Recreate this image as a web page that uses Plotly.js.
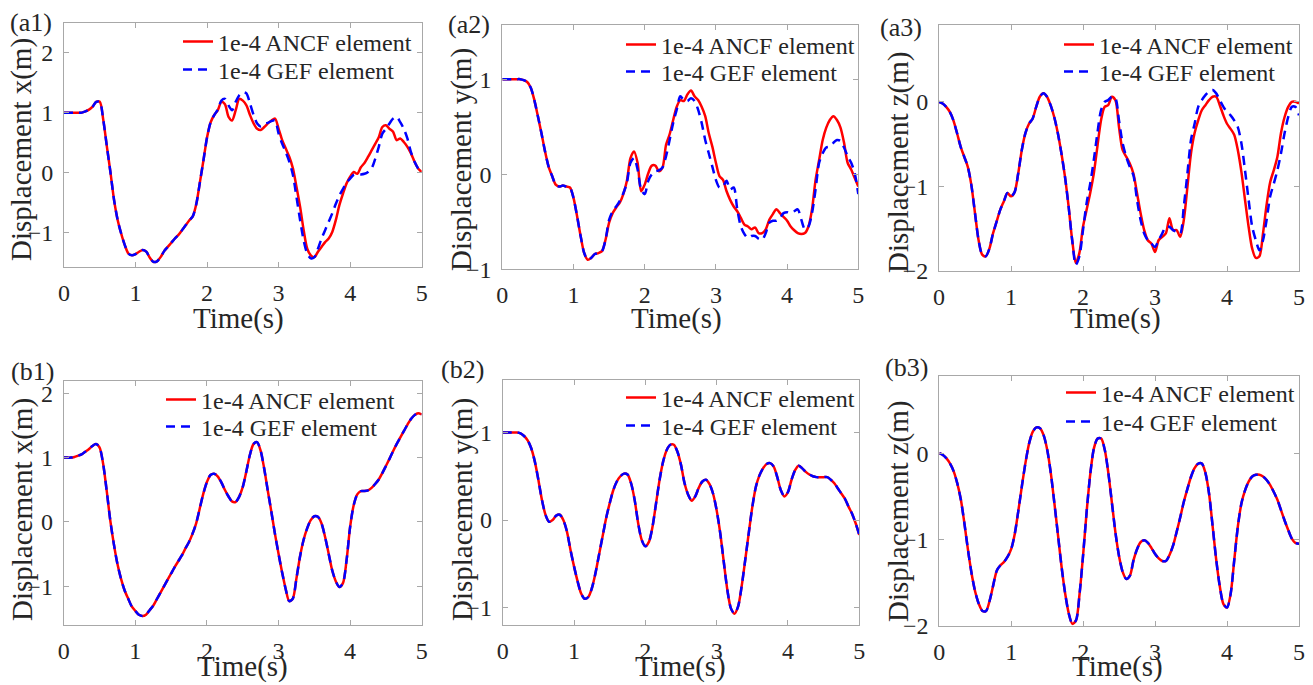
<!DOCTYPE html>
<html>
<head>
<meta charset="utf-8">
<script src="https://cdn.plot.ly/plotly-3.0.1.min.js"></script>
<style>
html,body{margin:0;padding:0;background:#fff;}
#chart{width:1313px;height:685px;}
</style>
</head>
<body>
<div id="chart"></div>
<script>
// time grid (s), sampled every 0.05 s
const time = Array.from({length: 101}, (_, i) => Math.round(i * 5) / 100);

// (a1) displacement x
const a1_ancf = [1.0,1.0,1.0,1.0,1.0,1.0,1.02,1.05,1.1,1.18,
  1.18,0.87,0.43,0.0,-0.46,-0.79,-1.02,-1.21,-1.35,-1.38,
  -1.36,-1.32,-1.29,-1.32,-1.42,-1.49,-1.48,-1.41,-1.31,-1.24,
  -1.17,-1.1,-1.04,-0.96,-0.88,-0.8,-0.73,-0.52,-0.16,0.21,
  0.59,0.84,0.96,1.04,1.18,1.14,0.93,0.87,1.04,1.23,
  1.2,1.12,0.96,0.82,0.73,0.71,0.76,0.82,0.87,0.9,
  0.73,0.54,0.4,0.26,0.07,-0.24,-0.57,-0.96,-1.27,-1.38,
  -1.41,-1.32,-1.24,-1.16,-1.1,-0.99,-0.79,-0.54,-0.35,-0.18,
  -0.07,0.01,-0.02,0.09,0.16,0.26,0.37,0.48,0.59,0.76,
  0.79,0.73,0.68,0.54,0.57,0.51,0.43,0.32,0.18,0.07,
  0.01];
const a1_gef = [1.0,1.0,1.0,1.0,1.0,1.0,1.02,1.05,1.1,1.18,
  1.18,0.87,0.43,0.0,-0.46,-0.79,-1.02,-1.21,-1.35,-1.38,
  -1.36,-1.32,-1.29,-1.32,-1.42,-1.49,-1.48,-1.41,-1.31,-1.24,
  -1.17,-1.1,-1.04,-0.96,-0.88,-0.8,-0.73,-0.52,-0.16,0.21,
  0.59,0.84,0.96,1.05,1.2,1.23,1.12,1.04,1.18,1.29,
  1.34,1.32,1.15,0.96,0.82,0.77,0.81,0.83,0.86,0.87,
  0.65,0.48,0.34,0.18,-0.04,-0.41,-0.79,-1.13,-1.35,-1.43,
  -1.41,-1.27,-1.1,-0.96,-0.82,-0.68,-0.52,-0.38,-0.27,-0.17,
  -0.1,-0.04,-0.03,-0.03,-0.02,0.01,0.07,0.23,0.43,0.65,
  0.73,0.82,0.9,0.93,0.84,0.73,0.57,0.34,0.18,0.07,
  0.01];

// (a2) displacement y
const a2_ancf = [1.0,1.0,1.0,1.0,1.0,1.0,0.99,0.97,0.91,0.78,
  0.61,0.43,0.24,0.08,-0.02,-0.11,-0.13,-0.12,-0.13,-0.14,
  -0.25,-0.44,-0.65,-0.83,-0.9,-0.88,-0.84,-0.83,-0.81,-0.69,
  -0.51,-0.41,-0.35,-0.3,-0.21,-0.07,0.17,0.24,0.12,-0.18,
  -0.11,0.01,0.09,0.09,0.03,0.07,0.31,0.42,0.57,0.71,
  0.78,0.77,0.84,0.88,0.82,0.78,0.71,0.61,0.43,0.29,
  0.12,-0.02,-0.06,-0.18,-0.27,-0.34,-0.39,-0.46,-0.53,-0.55,
  -0.58,-0.56,-0.62,-0.62,-0.58,-0.48,-0.42,-0.37,-0.41,-0.45,
  -0.49,-0.55,-0.59,-0.62,-0.63,-0.62,-0.55,-0.37,-0.06,0.15,
  0.36,0.49,0.57,0.61,0.57,0.49,0.33,0.12,0.05,-0.04,
  -0.13];
const a2_gef = [1.0,1.0,1.0,1.0,1.0,1.0,0.99,0.97,0.91,0.78,
  0.61,0.43,0.24,0.08,-0.02,-0.11,-0.13,-0.12,-0.13,-0.14,
  -0.25,-0.44,-0.65,-0.83,-0.9,-0.88,-0.84,-0.83,-0.81,-0.69,
  -0.48,-0.39,-0.34,-0.28,-0.2,-0.09,0.12,0.17,0.05,-0.16,
  -0.21,-0.07,0.0,0.03,0.04,0.07,0.19,0.36,0.54,0.68,
  0.82,0.78,0.77,0.8,0.77,0.68,0.54,0.36,0.22,0.08,
  -0.06,-0.14,-0.13,-0.07,-0.16,-0.14,-0.37,-0.55,-0.63,-0.67,
  -0.65,-0.65,-0.68,-0.69,-0.62,-0.51,-0.49,-0.49,-0.46,-0.41,
  -0.4,-0.41,-0.39,-0.37,-0.48,-0.58,-0.55,-0.41,-0.16,0.12,
  0.22,0.28,0.29,0.33,0.36,0.35,0.28,0.19,0.12,0.01,
  -0.21];

// (a3) displacement z
const a3_ancf = [0,-0.02,-0.06,-0.12,-0.22,-0.37,-0.53,-0.65,-0.77,-0.99,
  -1.32,-1.64,-1.81,-1.83,-1.74,-1.56,-1.42,-1.28,-1.18,-1.08,
  -1.12,-1.07,-0.85,-0.57,-0.37,-0.26,-0.2,-0.06,0.06,0.1,
  0.06,-0.04,-0.18,-0.37,-0.61,-0.89,-1.24,-1.64,-1.91,-1.79,
  -1.48,-1.28,-1.08,-0.85,-0.53,-0.22,-0.06,-0.04,0.06,0.02,
  -0.3,-0.57,-0.65,-0.73,-0.85,-1.08,-1.32,-1.52,-1.64,-1.68,
  -1.78,-1.64,-1.6,-1.56,-1.38,-1.52,-1.52,-1.6,-1.4,-1.01,
  -0.61,-0.37,-0.22,-0.1,-0.04,0.02,0.06,0.06,-0.04,-0.16,
  -0.26,-0.32,-0.39,-0.57,-0.83,-1.16,-1.48,-1.74,-1.85,-1.83,
  -1.56,-1.22,-0.95,-0.81,-0.65,-0.37,-0.18,-0.06,0,0,
  -0.02];
const a3_gef = [0,-0.02,-0.06,-0.12,-0.22,-0.37,-0.53,-0.65,-0.77,-0.99,
  -1.32,-1.64,-1.81,-1.83,-1.74,-1.56,-1.42,-1.28,-1.18,-1.08,
  -1.12,-1.07,-0.85,-0.57,-0.37,-0.26,-0.2,-0.06,0.06,0.1,
  0.06,-0.04,-0.18,-0.37,-0.61,-0.89,-1.24,-1.64,-1.93,-1.83,
  -1.52,-1.2,-0.97,-0.69,-0.37,-0.1,0.0,0.02,0.06,0.04,
  -0.22,-0.49,-0.65,-0.77,-0.87,-1.16,-1.4,-1.56,-1.64,-1.68,
  -1.72,-1.64,-1.56,-1.48,-1.48,-1.52,-1.54,-1.56,-1.24,-0.85,
  -0.45,-0.26,-0.06,0.02,0.08,0.12,0.14,0.1,0.02,-0.06,
  -0.12,-0.16,-0.22,-0.3,-0.49,-0.81,-1.16,-1.48,-1.64,-1.76,
  -1.64,-1.4,-1.12,-0.97,-0.81,-0.61,-0.37,-0.18,-0.06,-0.06,
  -0.16];

// (b1) displacement x (both elements coincide)
const b1_ancf = [1.0,1.0,1.0,1.01,1.03,1.05,1.09,1.13,1.18,1.21,
  1.16,0.91,0.49,0.03,-0.34,-0.65,-0.88,-1.06,-1.19,-1.31,
  -1.38,-1.44,-1.46,-1.44,-1.37,-1.3,-1.2,-1.1,-1.0,-0.9,
  -0.8,-0.7,-0.61,-0.52,-0.41,-0.31,-0.18,-0.02,0.21,0.44,
  0.62,0.73,0.75,0.71,0.62,0.5,0.4,0.32,0.31,0.39,
  0.54,0.78,1.04,1.21,1.24,1.11,0.83,0.49,0.16,-0.18,
  -0.49,-0.78,-1.04,-1.23,-1.19,-0.88,-0.54,-0.28,-0.1,0.03,
  0.09,0.08,-0.02,-0.23,-0.49,-0.75,-0.92,-1.01,-0.95,-0.6,
  -0.08,0.26,0.43,0.48,0.48,0.49,0.53,0.59,0.66,0.76,
  0.87,0.98,1.1,1.21,1.31,1.41,1.51,1.6,1.66,1.69,
  1.67];
const b1_gef = b1_ancf.slice();

// (b2) displacement y
const b2_ancf = [1.0,1.0,1.0,1.0,1.0,0.99,0.96,0.91,0.82,0.67,
  0.46,0.23,0.06,-0.02,0.0,0.05,0.06,0.0,-0.13,-0.34,
  -0.53,-0.7,-0.84,-0.9,-0.88,-0.78,-0.61,-0.4,-0.19,0.02,
  0.19,0.34,0.44,0.5,0.53,0.52,0.42,0.23,-0.04,-0.23,
  -0.3,-0.25,-0.08,0.19,0.46,0.67,0.8,0.86,0.86,0.78,
  0.63,0.42,0.29,0.22,0.27,0.37,0.44,0.46,0.41,0.3,
  0.11,-0.15,-0.48,-0.8,-1.01,-1.07,-0.99,-0.76,-0.46,-0.15,
  0.15,0.38,0.51,0.59,0.64,0.65,0.61,0.49,0.34,0.27,
  0.32,0.46,0.57,0.62,0.59,0.55,0.52,0.5,0.49,0.49,
  0.49,0.49,0.46,0.42,0.36,0.3,0.24,0.15,0.07,-0.04,
  -0.17];
const b2_gef = b2_ancf.slice();

// (b3) displacement z
const b3_ancf = [0,-0.02,-0.06,-0.12,-0.21,-0.35,-0.54,-0.82,-1.13,-1.4,
  -1.61,-1.75,-1.83,-1.83,-1.71,-1.53,-1.36,-1.3,-1.26,-1.2,
  -1.11,-0.93,-0.66,-0.37,-0.1,0.12,0.25,0.3,0.29,0.21,
  0.04,-0.23,-0.58,-0.95,-1.32,-1.63,-1.86,-1.98,-1.94,-1.63,
  -1.17,-0.66,-0.23,0.06,0.17,0.17,0.04,-0.23,-0.58,-0.93,
  -1.2,-1.38,-1.46,-1.42,-1.24,-1.11,-1.03,-1.01,-1.04,-1.1,
  -1.17,-1.22,-1.25,-1.25,-1.18,-1.07,-0.91,-0.74,-0.56,-0.41,
  -0.27,-0.17,-0.12,-0.12,-0.23,-0.47,-0.85,-1.24,-1.55,-1.75,
  -1.79,-1.63,-1.24,-0.85,-0.58,-0.43,-0.33,-0.27,-0.25,-0.25,
  -0.27,-0.31,-0.37,-0.45,-0.54,-0.66,-0.78,-0.89,-0.99,-1.04,
  -1.05];
const b3_gef = b3_ancf.slice();

const seriesNames = ['1e-4 ANCF element', '1e-4 GEF element'];
const panelLabels = ['(a1)', '(a2)', '(a3)', '(b1)', '(b2)', '(b3)'];
const yTitles = ['Displacement x(m)', 'Displacement y(m)', 'Displacement z(m)',
                 'Displacement x(m)', 'Displacement y(m)', 'Displacement z(m)'];
const xTitle = 'Time(s)';
const xTicks = [0, 1, 2, 3, 4, 5];

// lr: legend row centres (px); xt[1] null => anchored to page bottom
const panels = [
  {ancf: a1_ancf, gef: a1_gef, yr: [-1.58, 2.5],  xd: [64, 421.7],  yd: [22.7, 267.3], lx: 178, lr: [42, 70],  yt: [22, 150], xt: [238, 318], pl: [31, 23]},
  {ancf: a2_ancf, gef: a2_gef, yr: [-1.001, 1.57], xd: [502.3, 858.3], yd: [25, 269.3], lx: 621, lr: [45, 72], yt: [462, 160], xt: [676, 318], pl: [469, 25]},
  {ancf: a3_ancf, gef: a3_gef, yr: [-2.001, 0.91], xd: [939, 1299], yd: [25, 270.7], lx: 1059, lr: [45, 72], yt: [899, 163], xt: [1115, 318], pl: [901, 27]},
  {ancf: b1_ancf, gef: b1_gef, yr: [-1.6, 2.19],  xd: [63.7, 421.7], yd: [381, 625], lx: 161, lr: [400, 427], yt: [22, 510], xt: [242, null], pl: [32, 371]},
  {ancf: b2_ancf, gef: b2_gef, yr: [-1.2, 1.6],   xd: [502.7, 859.3], yd: [380, 625], lx: 621, lr: [398, 426], yt: [462, 510], xt: [680, null], pl: [462, 369]},
  {ancf: b3_ancf, gef: b3_gef, yr: [-2.001, 0.9], xd: [939.3, 1299], yd: [375.7, 625.7], lx: 1061, lr: [393, 422], yt: [899, 512], xt: [1117, null], pl: [906, 367]}
];

const W = 1313, H = 685;
const serif = 'Liberation Serif, Times New Roman, serif';
const textCol = '#262626';
const axCol = '#a8a8a8';

const data = [];
const layout = {
  width: W, height: H,
  margin: {l: 0, r: 0, t: 0, b: 0},
  paper_bgcolor: '#fff', plot_bgcolor: '#fff',
  showlegend: true,
  annotations: [],
  font: {family: serif, color: textCol}
};

function legendBox(x, yc) {
  return {
    x: x / W, y: 1 - yc / H, xanchor: 'left', yanchor: 'middle',
    bgcolor: 'rgba(0,0,0,0)', borderwidth: 0,
    font: {family: serif, size: 24, color: textCol},
    itemwidth: 30
  };
}

panels.forEach((p, i) => {
  const n = i + 1;
  const sfx = n === 1 ? '' : String(n);
  const legA = 2 * i + 1 === 1 ? 'legend' : 'legend' + (2 * i + 1);
  const legG = 'legend' + (2 * i + 2);
  data.push({
    x: time, y: p.ancf, xaxis: 'x' + sfx, yaxis: 'y' + sfx,
    type: 'scatter', mode: 'lines', name: seriesNames[0], legend: legA,
    line: {color: 'rgb(255,0,0)', width: 2.5, shape: 'spline', smoothing: 0.8}
  });
  data.push({
    x: time, y: p.gef, xaxis: 'x' + sfx, yaxis: 'y' + sfx,
    type: 'scatter', mode: 'lines', name: seriesNames[1], legend: legG,
    line: {color: 'rgb(0,0,255)', width: 2.5, dash: '9px,6px', shape: 'spline', smoothing: 0.8}
  });
  const common = {
    showline: true, mirror: 'ticks', linecolor: axCol, linewidth: 1,
    ticks: 'inside', ticklen: 5, tickcolor: axCol, tickwidth: 1,
    showgrid: false, zeroline: false,
    tickfont: {family: serif, size: 24, color: textCol},
    fixedrange: true
  };
  layout['xaxis' + sfx] = Object.assign({}, common, {
    domain: [p.xd[0] / W, p.xd[1] / W], range: [0, 5],
    tickmode: 'array', tickvals: xTicks, ticktext: xTicks.map(String),
    anchor: 'y' + sfx, ticklabelstandoff: 4
  });
  layout['yaxis' + sfx] = Object.assign({}, common, {
    domain: [1 - p.yd[1] / H, 1 - p.yd[0] / H], range: p.yr,
    tick0: 0, dtick: 1, anchor: 'x' + sfx, ticklabelstandoff: 5
  });
  layout[legA] = legendBox(p.lx, p.lr[0]);
  layout[legG] = legendBox(p.lx, p.lr[1]);
  layout.annotations.push({
    text: yTitles[i], xref: 'paper', yref: 'paper',
    x: p.yt[0] / W, y: 1 - p.yt[1] / H, xanchor: 'center', yanchor: 'middle',
    textangle: -90, showarrow: false,
    font: {family: serif, size: 29, color: textCol}
  });
  layout.annotations.push({
    text: xTitle, xref: 'paper', yref: 'paper',
    x: p.xt[0] / W,
    y: p.xt[1] === null ? 0 : 1 - p.xt[1] / H,
    xanchor: 'center', yanchor: p.xt[1] === null ? 'bottom' : 'middle',
    showarrow: false,
    font: {family: serif, size: 29, color: textCol}
  });
  layout.annotations.push({
    text: panelLabels[i], xref: 'paper', yref: 'paper',
    x: p.pl[0] / W, y: 1 - p.pl[1] / H, xanchor: 'center', yanchor: 'middle',
    showarrow: false,
    font: {family: serif, size: 26, color: textCol}
  });
});

Plotly.newPlot('chart', data, layout, {displayModeBar: false, staticPlot: true});
</script>
</body>
</html>
